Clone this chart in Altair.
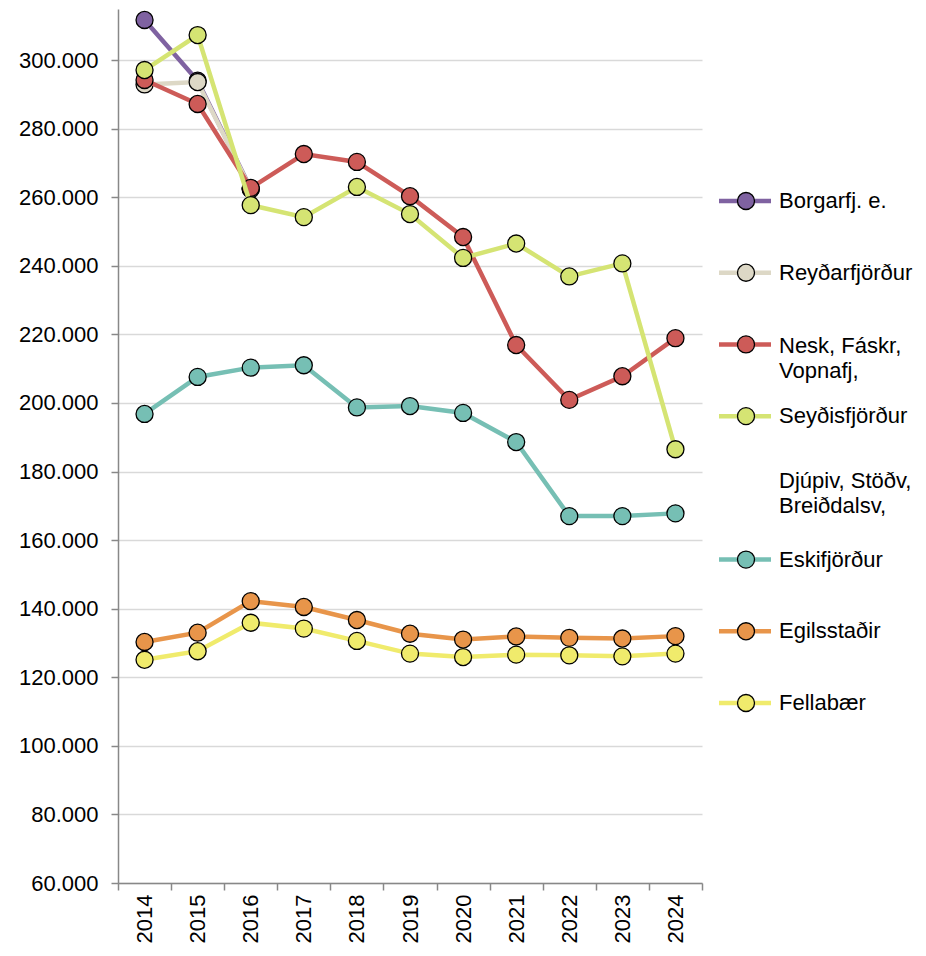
import altair as alt
import pandas as pd

FONT = "Liberation Sans"

years = list(range(2014, 2025))

series_names = [
    "Borgarfj. e.",
    "Reyðarfjörður",
    "Nesk, Fáskr, Vopnafj,",
    "Seyðisfjörður",
    "Djúpiv, Stöðv, Breiðdalsv,",
    "Eskifjörður",
    "Egilsstaðir",
    "Fellabær",
]
legend_labels = [
    "Borgarfj. e.",
    "Reyðarfjörður",
    "Nesk, Fáskr,\nVopnafj,",
    "Seyðisfjörður",
    "Djúpiv, Stöðv,\nBreiðdalsv,",
    "Eskifjörður",
    "Egilsstaðir",
    "Fellabær",
]

borgarfj = [311700, 294000, 262500]
reydarfj = [292900, 293600, 262300]
nesk = [294200, 287200, 262700, 272600, 270300, 260300, 248400, 216900, 200900, 207800, 218900]
seydisfj = [297100, 307300, 257700, 254200, 263000, 255100, 242300, 246500, 236900, 240700, 186500]
djupiv = []
eskifj = [196800, 207600, 210300, 211000, 198700, 199100, 197100, 188600, 167000, 167000, 167800]
egilsst = [130300, 133000, 142200, 140500, 136700, 132700, 131000, 131900, 131500, 131300, 132000]
fellab = [125100, 127600, 135900, 134200, 130600, 126900, 125900, 126600, 126400, 126100, 126900]

series_values = [borgarfj, reydarfj, nesk, seydisfj, djupiv, eskifj, egilsst, fellab]

colors = ["#7f62a1", "#ddd8c6", "#cd5b58", "#d5e473", "#ffffff", "#76bfb4", "#e8954a", "#f0eb6c"]

y_ticks = list(range(60000, 300001, 20000))
x_ticks = [y - 0.5 for y in years] + [years[-1] + 0.5]

rows = []
for name, vals in zip(series_names, series_values):
    for yr, v in zip(years, vals):
        rows.append({"year": yr, "series": name, "value": v})
df = pd.DataFrame(rows)

plotted = [n for n, v in zip(series_names, series_values) if v]
plotted_colors = [c for c, v in zip(colors, series_values) if v]

cscale = alt.Scale(domain=plotted, range=plotted_colors)
xscale = alt.Scale(domain=[2013.5, 2024.5], nice=False, zero=False)

x_lab = alt.X(
    "year:Q",
    scale=xscale,
    axis=alt.Axis(
        orient="bottom",
        values=years,
        format="d",
        labelAngle=270,
        labelFlush=False,
        labelOverlap=False,
        labelBound=False,
        grid=False,
        ticks=False,
        domain=False,
        labelPadding=11,
        labelFontSize=22,
        labelFont=FONT,
        labelColor="#000000",
        title=None,
    ),
)
x_tick = alt.X(
    "year:Q",
    scale=xscale,
    axis=alt.Axis(
        orient="bottom",
        values=x_ticks,
        labels=False,
        grid=False,
        tickSize=7,
        tickWidth=1.5,
        tickColor="#888888",
        domainColor="#888888",
        domainWidth=1.5,
        title=None,
    ),
)
y = alt.Y(
    "value:Q",
    scale=alt.Scale(domain=[60000, 314900], nice=False, zero=False),
    axis=alt.Axis(
        values=y_ticks,
        labelExpr="replace(format(datum.value, ',.0f'), ',', '.')",
        grid=True,
        gridColor="#d9d9d9",
        gridWidth=1.5,
        tickSize=7,
        tickWidth=1.5,
        tickColor="#888888",
        domainColor="#888888",
        domainWidth=1.5,
        labelPadding=13,
        labelFontSize=22,
        labelFont=FONT,
        labelColor="#000000",
        title=None,
    ),
)

base = alt.Chart(df)
layers = []
for s in plotted:
    f = base.transform_filter(alt.datum.series == s)
    layers.append(
        f.mark_line(strokeWidth=4.5).encode(
            x=x_lab, y=y, color=alt.Color("series:N", scale=cscale, legend=None)
        )
    )
    layers.append(
        f.mark_point(shape="circle", filled=True, size=290, stroke="black", strokeWidth=1.3, opacity=1).encode(
            x=x_lab, y=y, fill=alt.Fill("series:N", scale=cscale, legend=None)
        )
    )

series_layer = alt.layer(*layers)
tick_layer = base.mark_point(opacity=0).encode(x=x_tick, y=y)

main = (
    alt.layer(tick_layer, series_layer)
    .resolve_axis(x="independent")
    .properties(width=584, height=874)
)

# legend panel
leg_df = pd.DataFrame({"series": series_names, "label": legend_labels})
leg_sym = leg_df[leg_df["series"].isin(plotted)]
ly = alt.Y(
    "series:N",
    scale=alt.Scale(type="point", domain=series_names, range=[192, 694], padding=0),
    axis=None,
)

leg_base = alt.Chart(leg_sym)
leg_line = leg_base.mark_rule(strokeWidth=4.5).encode(
    x=alt.value(16), x2=alt.value(68), y=ly,
    color=alt.Color("series:N", scale=cscale, legend=None),
)
leg_pt = leg_base.mark_point(shape="circle", filled=True, size=290, stroke="black", strokeWidth=1.3, opacity=1).encode(
    x=alt.value(43), y=ly, fill=alt.Fill("series:N", scale=cscale, legend=None)
)
text_dy = {"Nesk, Fáskr, Vopnafj,": 2, "Djúpiv, Stöðv, Breiðdalsv,": -7}
text_layers = []
for s, lab in zip(series_names, legend_labels):
    text_layers.append(
        alt.Chart(leg_df)
        .transform_filter(alt.datum.series == s)
        .mark_text(
            align="left", baseline="middle", font=FONT, fontSize=22, color="#000000",
            lineBreak="\n", lineHeight=25, dy=text_dy.get(s, 0),
        )
        .encode(x=alt.value(76), y=ly, text="label:N")
    )

legend = alt.layer(leg_line, leg_pt, *text_layers).properties(width=140, height=874)

chart = (
    alt.hconcat(main, legend, spacing=0)
    .properties(padding={"left": 10, "top": 0, "right": 0, "bottom": 0})
    .configure(font=FONT)
    .configure_view(stroke="transparent", strokeWidth=0)
)

chart.save("out.html", embed_options={"renderer": "svg", "actions": False})
